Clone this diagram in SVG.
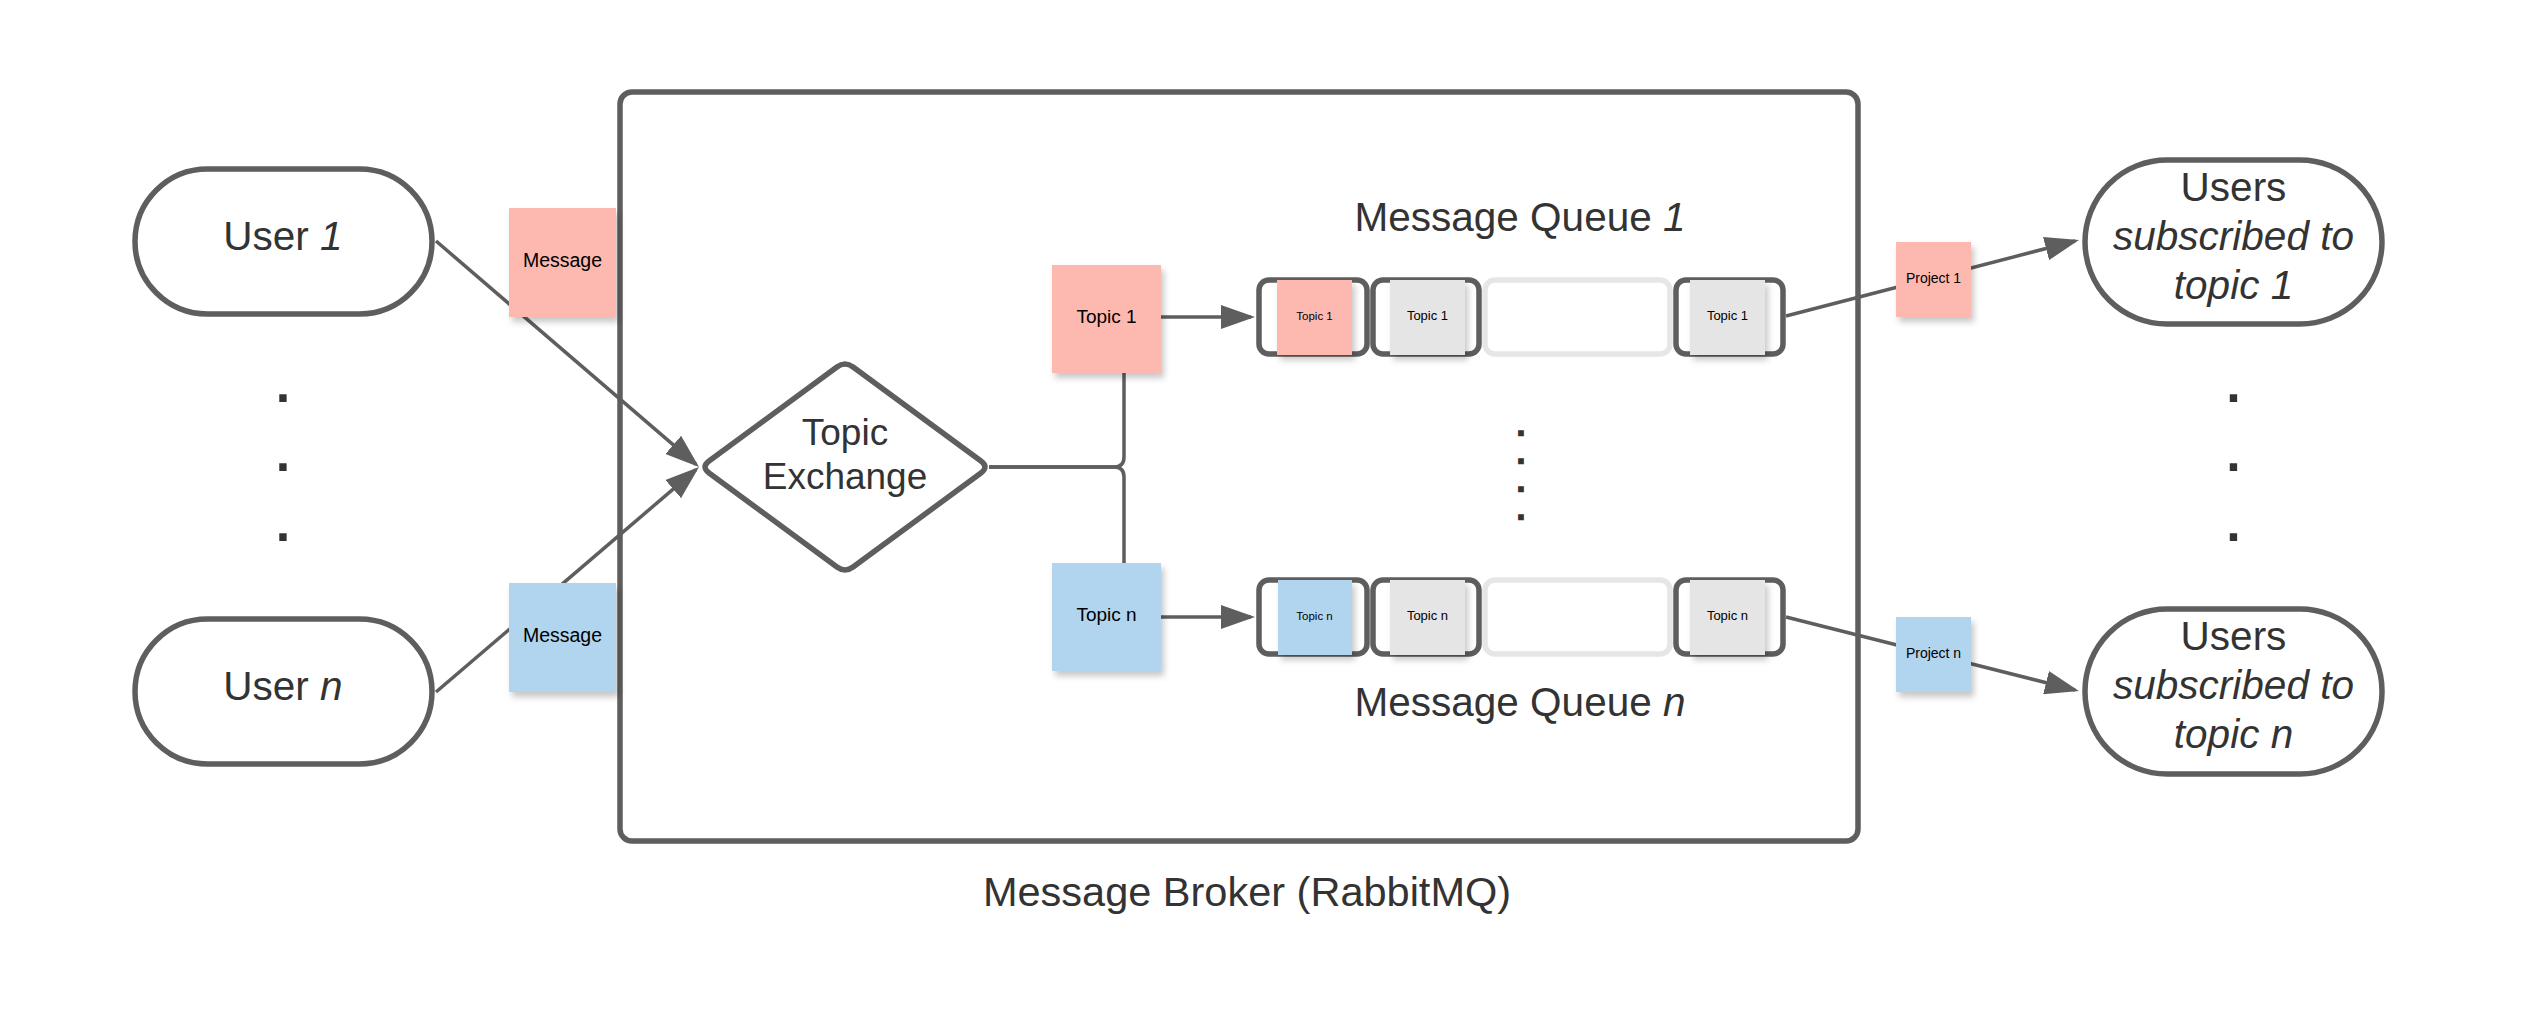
<svg xmlns="http://www.w3.org/2000/svg" width="2533" height="1024" viewBox="0 0 2533 1024">
  <style>
    text { font-family: "Liberation Sans", Arial, sans-serif; fill: #333333; text-anchor: middle; }
    .big { font-size: 40.5px; }
    .it { font-style: italic; }
    .note-t { fill: #000000; }
    .shape { fill: #ffffff; stroke: #5e5e5e; stroke-width: 5.5; }
    .cell { fill: #ffffff; stroke: #5e5e5e; stroke-width: 5.5; }
    .cell-empty { fill: #ffffff; stroke: #e6e6e6; stroke-width: 5.5; }
    .red { fill: #fdb9b0; }
    .blue { fill: #b2d5ef; }
    .gray { fill: #e5e5e5; }
    .conn { fill: none; stroke: #5e5e5e; stroke-width: 3.5; }
    .arrow { marker-end: url(#ah); }
    .dot { font-size: 52px; font-weight: bold; fill: #333333; }
    .qdot { font-size: 23px; font-weight: bold; fill: #333333; stroke: #333333; stroke-width: 2.5; }
  </style>
  <defs>
    <marker id="ah" markerUnits="userSpaceOnUse" markerWidth="34" markerHeight="24" refX="30" refY="12" orient="auto">
      <path d="M0,0 L34,12 L0,24 Z" fill="#5e5e5e"/>
    </marker>
    <filter id="sh" x="-20%" y="-20%" width="140%" height="150%">
      <feDropShadow dx="3" dy="5" stdDeviation="3" flood-color="#000000" flood-opacity="0.22"/>
    </filter>
  </defs>

  <rect x="0" y="0" width="2533" height="1024" fill="#ffffff"/>

  <g id="broker">
    <rect class="shape" x="620" y="92" width="1238" height="749" rx="12"/>
    <text x="1247" y="906" font-size="41.5">Message Broker (RabbitMQ)</text>
  </g>

  <g id="connectors">
    <path class="conn arrow" d="M436,241 L696,464.4"/>
    <path class="conn arrow" d="M436,692 L696,469.6"/>
    <path class="conn" d="M989,467 H1114 Q1124,467 1124,457 V373"/>
    <path class="conn" d="M989,467 H1114 Q1124,467 1124,477 V563"/>
    <path class="conn arrow" d="M1161,317 H1251"/>
    <path class="conn arrow" d="M1161,617 H1251"/>
    <path class="conn arrow" d="M1786,316 L2075.1,241"/>
    <path class="conn arrow" d="M1786,617 L2075.1,690"/>
  </g>

  <g id="user-1">
    <rect class="shape" x="135" y="169" width="297" height="145" rx="72.5"/>
    <text class="big" x="283" y="250">User <tspan class="it">1</tspan></text>
  </g>
  <g id="users-dots-left">
    <text class="dot" x="283" y="401.5">.</text>
    <text class="dot" x="283" y="470.5">.</text>
    <text class="dot" x="283" y="540.5">.</text>
  </g>
  <g id="user-n">
    <rect class="shape" x="135" y="619" width="297" height="145" rx="72.5"/>
    <text class="big" x="283" y="700">User <tspan class="it">n</tspan></text>
  </g>

  <g id="message-1">
    <rect class="red" x="509" y="208" width="107" height="109" filter="url(#sh)"/>
    <text class="note-t" x="562.5" y="266.5" font-size="19.5">Message</text>
  </g>
  <g id="message-n">
    <rect class="blue" x="509" y="583" width="107" height="109" filter="url(#sh)"/>
    <text class="note-t" x="562.5" y="641.5" font-size="19.5">Message</text>
  </g>

  <g id="topic-exchange">
    <path class="shape" d="M709.05,461.07 L836.95,366.93 Q845,361 853.05,366.93 L980.95,461.07 Q989,467 980.95,472.93 L853.05,567.07 Q845,573 836.95,567.07 L709.05,472.93 Q701,467 709.05,461.07 Z"/>
    <text x="845" y="444.5" font-size="37">Topic</text>
    <text x="845" y="489" font-size="37">Exchange</text>
  </g>

  <g id="topic-1">
    <rect class="red" x="1052" y="265" width="109" height="108" filter="url(#sh)"/>
    <text class="note-t" x="1106.5" y="322.5" font-size="19">Topic 1</text>
  </g>
  <g id="topic-n">
    <rect class="blue" x="1052" y="563" width="109" height="108" filter="url(#sh)"/>
    <text class="note-t" x="1106.5" y="620.5" font-size="19">Topic n</text>
  </g>

  <g id="queue-1">
    <text class="big" x="1520" y="231">Message Queue <tspan class="it">1</tspan></text>
    <rect class="cell" x="1259" y="280" width="108" height="74" rx="10"/>
    <rect class="cell" x="1373" y="280" width="106" height="74" rx="10"/>
    <rect class="cell-empty" x="1485" y="280" width="185" height="74" rx="10"/>
    <rect class="cell" x="1676" y="280" width="107" height="74" rx="10"/>
    <rect class="red" x="1277" y="280" width="75" height="75" filter="url(#sh)"/>
    <rect class="gray" x="1390" y="280" width="75" height="75" filter="url(#sh)"/>
    <rect class="gray" x="1690" y="280" width="75" height="75" filter="url(#sh)"/>
    <text class="note-t" x="1314.5" y="320" font-size="11.5">Topic 1</text>
    <text class="note-t" x="1427.5" y="320" font-size="13">Topic 1</text>
    <text class="note-t" x="1727.5" y="320" font-size="13">Topic 1</text>
  </g>

  <g id="queue-dots">
    <text class="qdot" x="1521" y="435">.</text>
    <text class="qdot" x="1521" y="463">.</text>
    <text class="qdot" x="1521" y="491">.</text>
    <text class="qdot" x="1521" y="519">.</text>
  </g>

  <g id="queue-n">
    <rect class="cell" x="1259" y="580" width="108" height="74" rx="10"/>
    <rect class="cell" x="1373" y="580" width="106" height="74" rx="10"/>
    <rect class="cell-empty" x="1485" y="580" width="185" height="74" rx="10"/>
    <rect class="cell" x="1676" y="580" width="107" height="74" rx="10"/>
    <rect class="blue" x="1278" y="580" width="74" height="75" filter="url(#sh)"/>
    <rect class="gray" x="1390" y="580" width="75" height="75" filter="url(#sh)"/>
    <rect class="gray" x="1690" y="580" width="75" height="75" filter="url(#sh)"/>
    <text class="note-t" x="1314.5" y="620" font-size="11.5">Topic n</text>
    <text class="note-t" x="1427.5" y="620" font-size="13">Topic n</text>
    <text class="note-t" x="1727.5" y="620" font-size="13">Topic n</text>
    <text class="big" x="1520" y="716">Message Queue <tspan class="it">n</tspan></text>
  </g>

  <g id="project-1">
    <rect class="red" x="1896" y="242" width="75" height="75" filter="url(#sh)"/>
    <text class="note-t" x="1933.5" y="283" font-size="14">Project 1</text>
  </g>
  <g id="project-n">
    <rect class="blue" x="1896" y="617" width="75" height="75" filter="url(#sh)"/>
    <text class="note-t" x="1933.5" y="658" font-size="14">Project n</text>
  </g>

  <g id="users-topic-1">
    <rect class="shape" x="2085" y="160" width="297" height="164" rx="82"/>
    <text class="big" x="2233.5" y="200.5">Users</text>
    <text class="big it" x="2233.5" y="249.5">subscribed to</text>
    <text class="big it" x="2233.5" y="298.5">topic 1</text>
  </g>
  <g id="users-dots-right">
    <text class="dot" x="2233.5" y="401.5">.</text>
    <text class="dot" x="2233.5" y="470.5">.</text>
    <text class="dot" x="2233.5" y="540.5">.</text>
  </g>
  <g id="users-topic-n">
    <rect class="shape" x="2085" y="609" width="297" height="165" rx="82"/>
    <text class="big" x="2233.5" y="649.5">Users</text>
    <text class="big it" x="2233.5" y="698.5">subscribed to</text>
    <text class="big it" x="2233.5" y="748">topic n</text>
  </g>
</svg>
